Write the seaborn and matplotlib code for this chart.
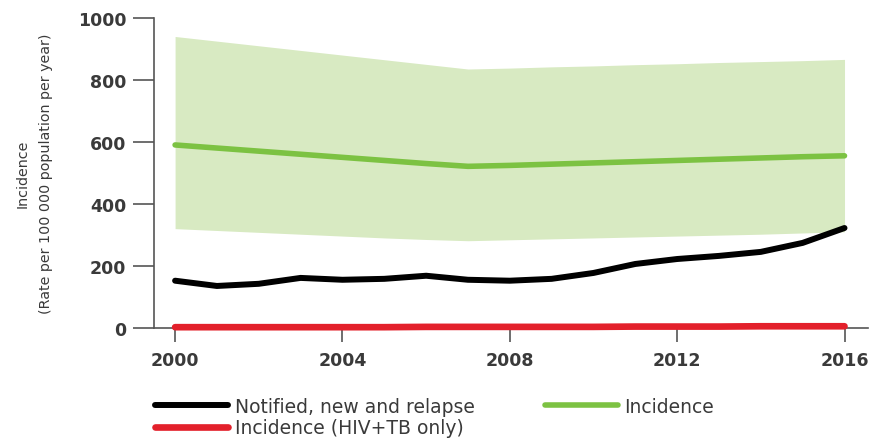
import matplotlib
matplotlib.use("Agg")
import matplotlib.pyplot as plt
import seaborn as sns
import pandas as pd

years = list(range(2000, 2017))

# Incidence, best estimate and uncertainty interval (rate per 100 000 per year)
incidence = [590, 580, 570, 560, 550, 540, 530, 521, 524, 528, 532, 536, 540, 544, 548, 552, 555]
incidence_low = [320, 314, 308, 302, 296, 290, 285, 281, 284, 287, 290, 293, 296, 299, 302, 306, 310]
incidence_high = [940, 925, 910, 895, 880, 865, 850, 835, 838, 842, 845, 849, 852, 856, 859, 862, 866]

# Notified, new and relapse
notified = [152, 135, 142, 161, 155, 158, 168, 155, 152, 158, 177, 206, 222, 232, 245, 274, 322]

# Incidence (HIV+TB only)
hiv_tb = [2, 2, 2, 2, 2, 2, 3, 3, 3, 3, 3, 4, 4, 4, 5, 5, 5]

xticks = [2000, 2004, 2008, 2012, 2016]
yticks = [0, 200, 400, 600, 800, 1000]

df = pd.DataFrame({
    "year": years,
    "incidence": incidence,
    "notified": notified,
    "hiv_tb": hiv_tb,
})

sns.set_style("ticks")
plt.rcParams["font.family"] = ["DejaVu Sans"]

text_grey = "#3a3a3a"
axis_grey = "#555555"

fig = plt.figure(figsize=(8.71, 4.39), dpi=100)
ax = fig.add_axes([0.177, 0.251, 0.819, 0.706])

green = "#7cc242"
band = "#d8eac2"
ax.fill_between(years, incidence_low, incidence_high, color=band, lw=0, zorder=1)
sns.lineplot(data=df, x="year", y="incidence", ax=ax, color=green, lw=4,
             label="Incidence", zorder=3)
sns.lineplot(data=df, x="year", y="notified", ax=ax, color="black", lw=4.3,
             label="Notified, new and relapse", zorder=4)
sns.lineplot(data=df, x="year", y="hiv_tb", ax=ax, color="#e3202b", lw=4.8,
             label="Incidence (HIV+TB only)", zorder=5, clip_on=False)

ax.set_xlim(1999.5, 2016.55)
ax.set_ylim(0, 1000)
ax.set_xticks(xticks)
ax.set_yticks(yticks)
ax.set_xlabel("")
ax.set_ylabel("Incidence\n(Rate per 100 000 population per year)",
              fontsize=10.3, color=text_grey, linespacing=1.85)
ax.yaxis.set_label_coords(-0.142, 0.5)

for side in ["top", "right"]:
    ax.spines[side].set_visible(False)
for side in ["left", "bottom"]:
    ax.spines[side].set_color(axis_grey)
    ax.spines[side].set_linewidth(1.2)

ax.tick_params(axis="y", left=True, direction="out", length=15, width=1.2,
               color=axis_grey, labelsize=12.5, labelcolor=text_grey, pad=5)
ax.tick_params(axis="x", bottom=True, direction="out", length=10, width=1.2,
               color=axis_grey, labelsize=12.5, labelcolor=text_grey, pad=7)
for lbl in ax.get_xticklabels() + ax.get_yticklabels():
    lbl.set_fontweight("bold")

handles, labels = ax.get_legend_handles_labels()
order = [1, 2, 0]
ax.legend([handles[i] for i in order], [labels[i] for i in order],
          loc="upper left", bbox_to_anchor=(0.0015, -0.222), ncol=2,
          frameon=False, fontsize=13.5, handlelength=3.9, handletextpad=0.37,
          columnspacing=3.7, labelspacing=0.14, labelcolor=text_grey,
          borderaxespad=0, borderpad=0)

fig.savefig("out.png", dpi=100)
